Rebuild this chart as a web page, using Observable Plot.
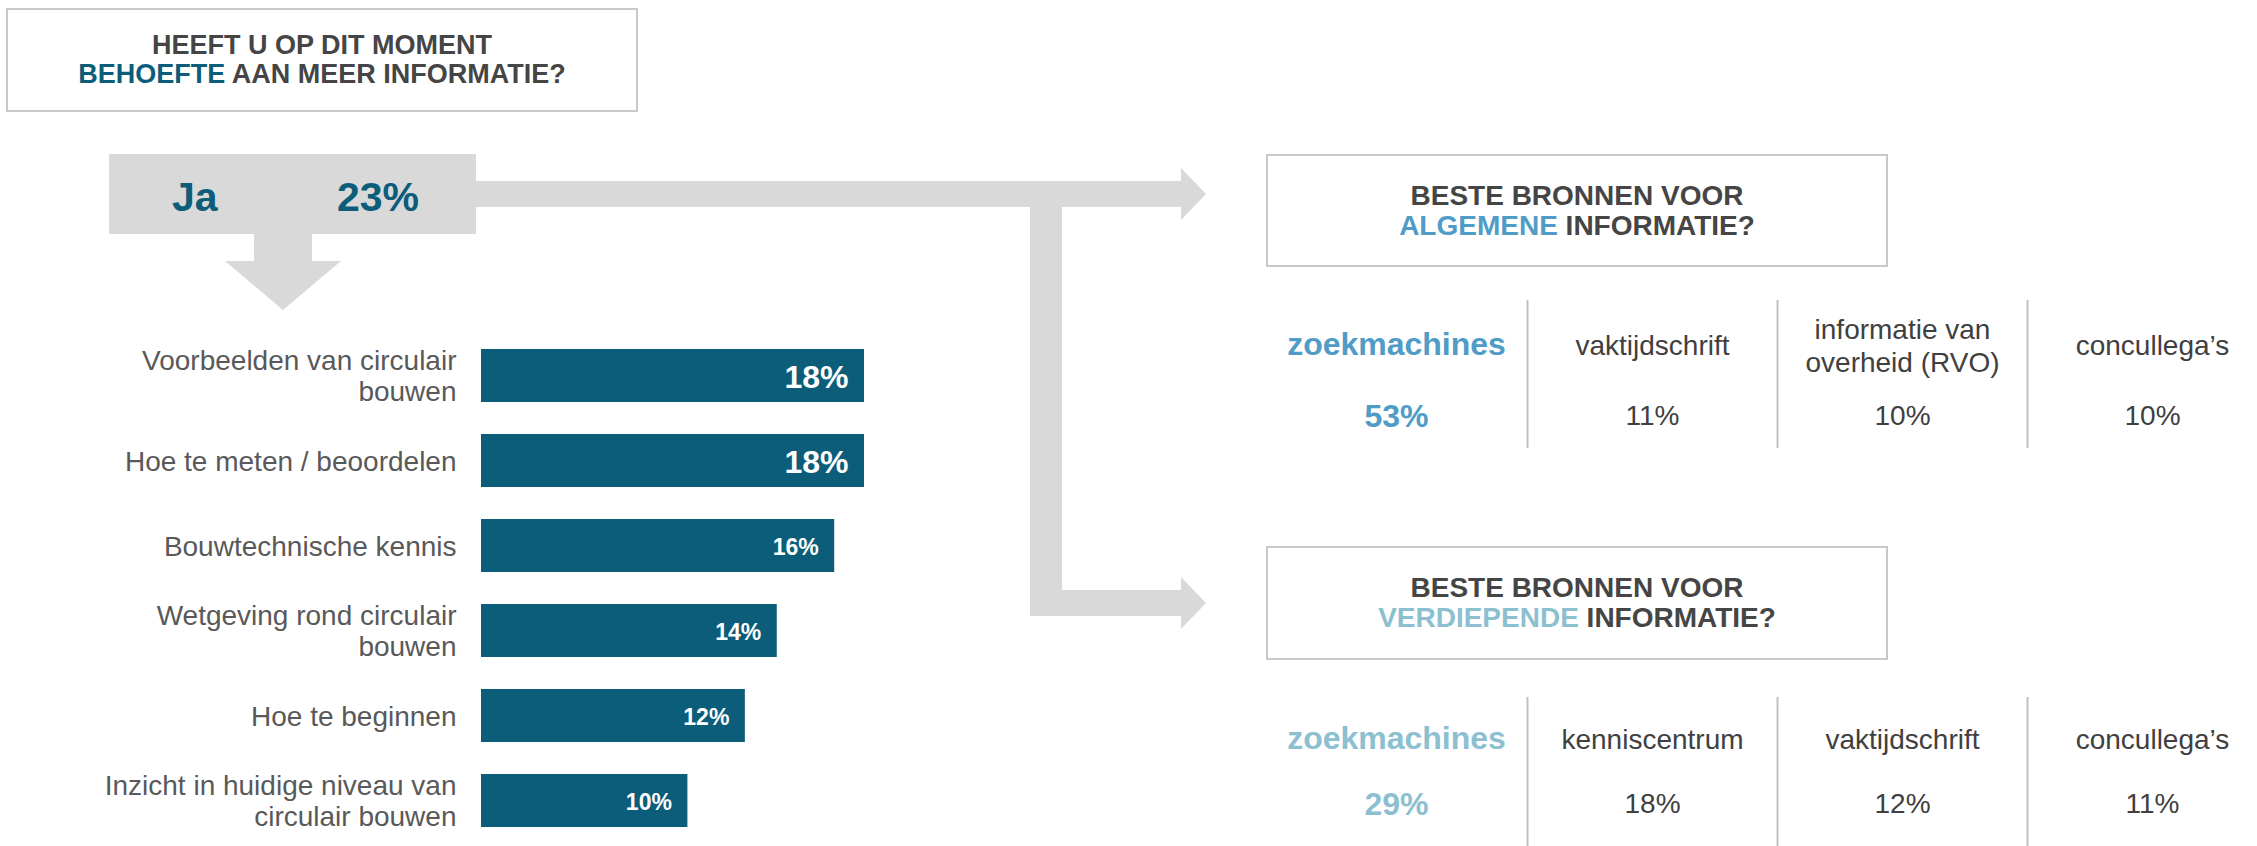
<!DOCTYPE html>
<html>
<head>
<meta charset="utf-8">
<script src="https://cdn.jsdelivr.net/npm/d3@7"></script>
<script src="https://cdn.jsdelivr.net/npm/@observablehq/plot@0.6"></script>
<style>
  html, body { margin: 0; padding: 0; background: #ffffff; }
  body { width: 2257px; height: 846px; overflow: hidden; position: relative;
         font-family: "Liberation Sans", Arial, sans-serif; }
  .abs { position: absolute; }
  .qbox { position: absolute; box-sizing: border-box; border: 2px solid #c8c8c8;
          display: flex; align-items: center; justify-content: center; text-align: center;
          font-weight: bold; color: #454545; }
  .qbox div { white-space: nowrap; }
</style>
</head>
<body>
<div id="root"></div>
<script>
// ---------- data ----------
const mainQuestion = ["HEEFT U OP DIT MOMENT", ["BEHOEFTE", " AAN MEER INFORMATIE?"]];
const jaLabel = "Ja";
const jaShare = 23;

const needTopics = [
  "Voorbeelden van circulair\nbouwen",
  "Hoe te meten / beoordelen",
  "Bouwtechnische kennis",
  "Wetgeving rond circulair\nbouwen",
  "Hoe te beginnen",
  "Inzicht in huidige niveau van\ncirculair bouwen"
];
const needValues = [18, 18, 16.6, 13.9, 12.4, 9.7];
const needLabels = ["18%", "18%", "16%", "14%", "12%", "10%"];

const generalTitle = ["BESTE BRONNEN VOOR", ["ALGEMENE", " INFORMATIE?"]];
const generalSources = ["zoekmachines", "vaktijdschrift", "informatie van\noverheid (RVO)", "concullega\u2019s"];
const generalShares = [53, 11, 10, 10];

const deepTitle = ["BESTE BRONNEN VOOR", ["VERDIEPENDE", " INFORMATIE?"]];
const deepSources = ["zoekmachines", "kenniscentrum", "vaktijdschrift", "concullega\u2019s"];
const deepShares = [29, 18, 12, 11];

// ---------- styles ----------
const DARK_BLUE = "#0b5d7a";
const MID_BLUE = "#4f9cc6";
const LIGHT_BLUE = "#8cc0d0";
const GREY_SHAPE = "#d9d9d9";
const TEXT_DARK = "#404040";
const FONT = "Liberation Sans, Arial, sans-serif";

const root = document.getElementById("root");

function questionBox(lines, accent, left, top, width, height, fontSize, lineHeight) {
  const box = document.createElement("div");
  box.className = "qbox";
  Object.assign(box.style, {left: left + "px", top: top + "px", width: width + "px", height: height + "px",
    fontSize: fontSize + "px", lineHeight: lineHeight + "px"});
  const inner = document.createElement("div");
  const l1 = document.createElement("div");
  l1.textContent = lines[0];
  const l2 = document.createElement("div");
  const s = document.createElement("span");
  s.textContent = lines[1][0];
  s.style.color = accent;
  l2.appendChild(s);
  l2.appendChild(document.createTextNode(lines[1][1]));
  inner.appendChild(l1); inner.appendChild(l2);
  box.appendChild(inner);
  root.appendChild(box);
}

questionBox(mainQuestion, DARK_BLUE, 6, 8, 632, 104, 27, 29);
questionBox(generalTitle, MID_BLUE, 1266, 154, 622, 113, 28, 30);
questionBox(deepTitle, LIGHT_BLUE, 1266, 546, 622, 114, 28, 30);

// ---------- bar chart ----------
const needData = needTopics.map((t, i) => ({topic: t, value: needValues[i], label: needLabels[i]}));
const barChart = Plot.plot({
  width: 900, height: 546,
  marginLeft: 481, marginRight: 36, marginTop: 46, marginBottom: 16,
  style: {background: "transparent", fontFamily: FONT, overflow: "visible"},
  x: {domain: [0, 18], axis: null},
  y: {domain: needTopics, axis: null, paddingInner: 0.372, paddingOuter: 0},
  marks: [
    Plot.barX(needData, {x: "value", y: "topic", fill: DARK_BLUE}),
    Plot.text(needData, {x: 0, y: "topic", text: "topic", textAnchor: "end", dx: -25,
      fontSize: 28, lineHeight: 1.11, fill: "#595959"}),
    Plot.text(needData, {x: "value", y: "topic", text: "label", textAnchor: "end", dx: -16, dy: 2,
      fill: "white", fontWeight: "bold", fontSize: (d, i) => (i < 2 ? 32 : 23)})
  ]
});
const barWrap = document.createElement("div");
barWrap.className = "abs";
Object.assign(barWrap.style, {left: "0px", top: "300px", width: "900px", height: "546px"});
barWrap.appendChild(barChart);
root.appendChild(barWrap);

// ---------- source panels ----------
function sourcePanel(sources, shares, accent, top, height, yName, yShare) {
  const rows = sources.map((s, i) => ({pos: i + 0.5, name: s, share: shares[i] + "%", lead: i === 0}));
  const lead = rows.filter(d => d.lead);
  const rest = rows.filter(d => !d.lead);
  const chart = Plot.plot({
    width: 1000, height,
    marginLeft: 0, marginRight: 0, marginTop: 0, marginBottom: 0,
    style: {background: "transparent", fontFamily: FONT, overflow: "visible"},
    x: {domain: [0, sources.length], axis: null},
    y: {type: "point", domain: ["name", "share"], range: [yName, yShare], padding: 0, axis: null},
    marks: [
      Plot.ruleX(d3.range(1, sources.length), {stroke: "#c0c0c0", strokeWidth: 2}),
      Plot.text(rest, {x: "pos", y: () => "name", text: "name", fontSize: 28, fill: TEXT_DARK, lineHeight: 1.18}),
      Plot.text(rest, {x: "pos", y: () => "share", text: "share", fontSize: 28, fill: TEXT_DARK}),
      Plot.text(lead, {x: "pos", y: () => "name", text: "name", dx: -6, fontSize: 32, fontWeight: "bold", fill: accent}),
      Plot.text(lead, {x: "pos", y: () => "share", text: "share", dx: -6, fontSize: 32, fontWeight: "bold", fill: accent})
    ]
  });
  const wrap = document.createElement("div");
  wrap.className = "abs";
  Object.assign(wrap.style, {left: "1277px", top: top + "px", width: "1000px", height: height + "px"});
  wrap.appendChild(chart);
  root.appendChild(wrap);
}
sourcePanel(generalSources, generalShares, MID_BLUE, 300, 148, 44, 116);
sourcePanel(deepSources, deepShares, LIGHT_BLUE, 697, 149, 41, 107);

// ---------- flow arrows (decoration) ----------
const svg = d3.create("svg").attr("width", 2257).attr("height", 846)
  .style("position", "absolute").style("left", "0px").style("top", "0px");
const g = svg.append("g").attr("fill", GREY_SHAPE);
g.append("rect").attr("x", 109).attr("y", 154).attr("width", 367).attr("height", 80);
g.append("polygon").attr("points", "254,233 312,233 312,261 341,261 283,310 225,261 254,261");
g.append("rect").attr("x", 475).attr("y", 181).attr("width", 707).attr("height", 26);
g.append("polygon").attr("points", "1181,168 1206,194 1181,220");
g.append("rect").attr("x", 1030).attr("y", 206).attr("width", 32).attr("height", 410);
g.append("rect").attr("x", 1030).attr("y", 590).attr("width", 152).attr("height", 26);
g.append("polygon").attr("points", "1181,577 1206,603 1181,629");
svg.append("text").attr("x", 172).attr("y", 211).attr("font-family", FONT).attr("font-weight", "bold")
  .attr("font-size", 41).attr("fill", DARK_BLUE).text(jaLabel);
svg.append("text").attr("x", 337).attr("y", 211).attr("font-family", FONT).attr("font-weight", "bold")
  .attr("font-size", 41).attr("fill", DARK_BLUE).text(jaShare + "%");
root.appendChild(svg.node());
</script>
</body>
</html>
